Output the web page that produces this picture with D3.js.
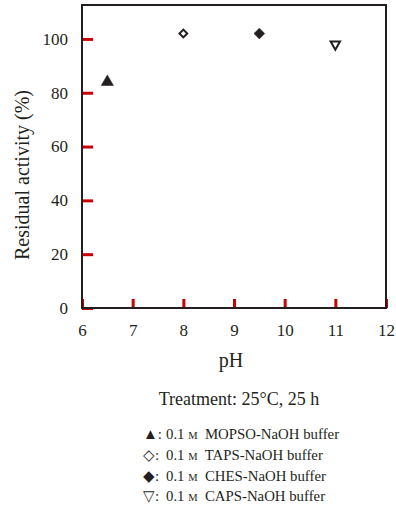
<!DOCTYPE html>
<html>
<head>
<meta charset="utf-8">
<script src="https://cdn.jsdelivr.net/npm/d3@7"></script>
<style>
  body { margin: 0; background: #fff; }
  text { font-family: "Liberation Serif", "Times New Roman", serif; fill: #231f20; }
</style>
</head>
<body>
<div id="chart"></div>
<script>
// data
var buffers = ["MOPSO-NaOH", "TAPS-NaOH", "CHES-NaOH", "CAPS-NaOH"];
var phValues = [6.5, 8, 9.5, 11];
var activity = [84, 102, 102, 98];
var symbols = ["▲", "◇", "◆", "▽"];
var xTicks = [6, 7, 8, 9, 10, 11, 12];
var yTicks = [0, 20, 40, 60, 80, 100];

var W = 396, H = 509;
var margin = {top: 5, right: 10, bottom: 201, left: 82},
    plotW = W - margin.left - margin.right,
    plotH = H - margin.top - margin.bottom;

var svg = d3.select("#chart").append("svg")
    .attr("width", W).attr("height", H);

// scales in page pixels
var x = d3.scaleLinear().domain([6, 12]).range([margin.left, margin.left + plotW]);
var y = d3.scaleLinear().domain([0, 112.6]).range([margin.top + plotH, margin.top]);

// axes: inward ticks, labels outside
var yAxis = svg.append("g")
    .attr("transform", "translate(" + margin.left + ",0)")
    .call(d3.axisLeft(y).tickValues(yTicks).tickFormat(d3.format("d"))
      .tickSizeInner(-11).tickSizeOuter(0).tickPadding(3));
var xAxis = svg.append("g")
    .attr("transform", "translate(0," + (margin.top + plotH) + ")")
    .call(d3.axisBottom(x).tickValues(xTicks).tickFormat(d3.format("d"))
      .tickSizeInner(-9).tickSizeOuter(0).tickPadding(5));
[yAxis, xAxis].forEach(function(a) {
  a.select(".domain").remove();
  a.selectAll(".tick line").attr("stroke", "#cc0000").attr("stroke-width", 3);
  a.selectAll("text").attr("fill", "#231f20")
    .style("font-family", "'Liberation Serif', serif").style("font-size", "17px");
});
yAxis.selectAll(".tick text").attr("x", -14);
xAxis.selectAll(".tick text").attr("y", 16);

// frame
svg.append("rect")
    .attr("x", margin.left).attr("y", margin.top)
    .attr("width", plotW).attr("height", plotH)
    .attr("fill", "none").attr("stroke", "#231f20").attr("stroke-width", 2);

// axis titles
svg.append("text")
    .attr("x", 231).attr("y", 367)
    .attr("text-anchor", "middle")
    .style("font-size", "20px").text("pH");
svg.append("text")
    .attr("transform", "translate(22,175) rotate(-90)")
    .attr("dy", "0.35em").attr("text-anchor", "middle")
    .style("font-size", "20px").text("Residual activity (%)");

// points
var sym = [
  {type: d3.symbolTriangle, fill: "#231f20", size: 65, rot: 0, sw: 0.5},
  {type: d3.symbolSquare, fill: "#fff", size: 30, rot: 45, sw: 2},
  {type: d3.symbolSquare, fill: "#231f20", size: 58, rot: 45, sw: 0.5},
  {type: d3.symbolTriangle, fill: "#fff", size: 38, rot: 180, sw: 2}
];
svg.selectAll(".pt").data(phValues).enter().append("path").attr("class", "pt")
    .attr("d", function(d, i) { return d3.symbol().type(sym[i].type).size(sym[i].size)(); })
    .attr("transform", function(d, i) {
      return "translate(" + x(d) + "," + y(activity[i]) + ") rotate(" + sym[i].rot + ")";
    })
    .attr("fill", function(d, i) { return sym[i].fill; })
    .attr("stroke", "#231f20")
    .attr("stroke-width", function(d, i) { return sym[i].sw; });

// treatment note
svg.append("text")
    .attr("x", 239).attr("y", 399).attr("dy", "0.35em")
    .attr("text-anchor", "middle").style("font-size", "18px")
    .text("Treatment: 25°C, 25 h");

// legend
var leg = svg.selectAll(".leg").data(buffers).enter().append("g").attr("class", "leg")
    .attr("transform", function(d, i) { return "translate(143," + (434 + i * 20.7) + ")"; });
leg.append("text").attr("dy", "0.35em").style("font-size", "15px")
    .text(function(d, i) { return symbols[i] + ":"; });
var t = leg.append("text").attr("x", 23).attr("dy", "0.35em").style("font-size", "14.8px");
t.append("tspan").text("0.1 ");
t.append("tspan").style("font-size", "10.5px").text("M");
t.append("tspan").text("\u00a0 ");
t.append("tspan").text(function(d) { return d + " buffer"; });
</script>
</body>
</html>
